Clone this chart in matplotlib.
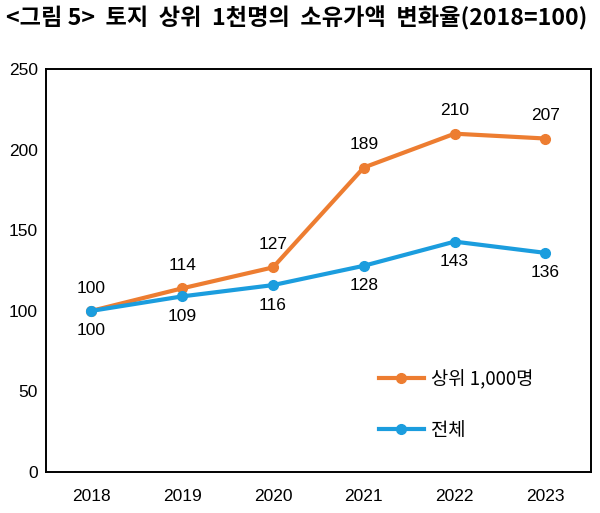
import matplotlib
matplotlib.use("Agg")
import matplotlib.pyplot as plt

plt.rcParams['font.family'] = ['Noto Sans CJK KR', 'DejaVu Sans']

years = ['2018', '2019', '2020', '2021', '2022', '2023']
top1000 = [100, 114, 127, 189, 210, 207]
total = [100, 109, 116, 128, 143, 136]
yticks = [0, 50, 100, 150, 200, 250]

orange = '#ED7D31'
blue = '#1B9DDE'

fig = plt.figure(figsize=(6.0, 5.13), dpi=100)
ax = fig.add_axes([0.0767, 0.080, 0.908, 0.785])
x = list(range(len(years)))
ax.plot(x, top1000, color=orange, lw=3, marker='o', ms=7, label='상위 1,000명', zorder=3)
ax.plot(x, total, color=blue, lw=3, marker='o', ms=7, label='전체', zorder=3)

for i, v in enumerate(top1000):
    ax.annotate(str(v), (i, v), xytext=(0, 11), textcoords='offset points',
                ha='center', va='bottom', fontsize=12.5, family='Liberation Sans')
for i, v in enumerate(total):
    ax.annotate(str(v), (i, v), xytext=(0, -9), textcoords='offset points',
                ha='center', va='top', fontsize=12.5, family='Liberation Sans')

ax.set_xlim(-0.5, len(years) - 0.5)
ax.set_ylim(0, 250)
ax.set_yticks(yticks)
ax.set_xticks(x)
ax.set_xticklabels(years, family='Liberation Sans', fontsize=12.5)
ax.set_yticklabels([str(t) for t in yticks], family='Liberation Sans', fontsize=12.5)
for s in ax.spines.values():
    s.set_color('black')
    s.set_linewidth(1.4)
ax.tick_params(axis='both', length=0)
ax.tick_params(axis='x', pad=12)
ax.tick_params(axis='y', pad=6)

leg = ax.legend(loc='lower left', bbox_to_anchor=(0.58, 0.035), frameon=False,
                fontsize=13.5, handlelength=2.4, labelspacing=1.6, handletextpad=0.4)

fig.text(0.010, 0.965, '<그림 5>  토지  상위  1천명의  소유가액  변화율(2018=100)',
         fontsize=16.7, fontweight='bold', ha='left', va='center')

fig.savefig('out.png', dpi=100)
